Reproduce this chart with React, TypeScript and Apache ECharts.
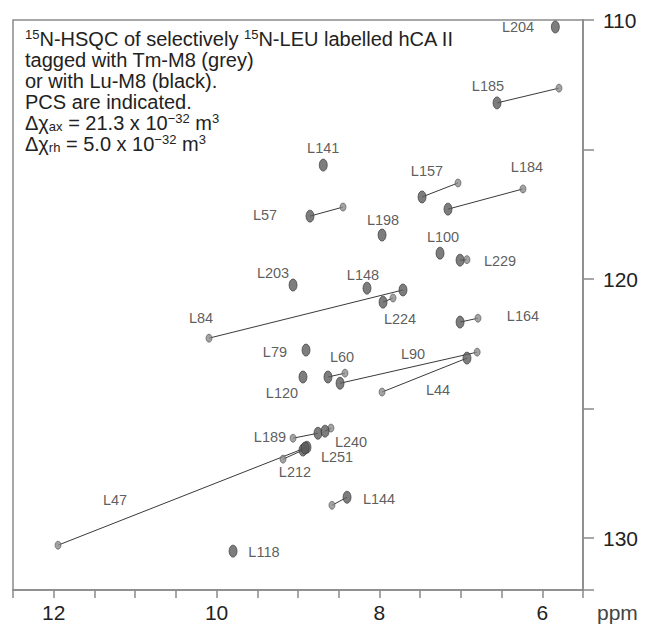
import React, { useEffect, useRef } from "react";
import * as echarts from "echarts";

// Residue names
const residues = [
  "L204", "L185", "L141", "L157", "L184", "L57", "L198", "L100", "L229", "L203",
  "L148", "L84", "L224", "L164", "L79", "L60", "L120", "L90", "L44", "L189",
  "L240", "L251", "L212", "L47", "L144", "L118",
];
// Lu-M8 (black, diamagnetic) peaks: 1H ppm / 15N ppm
const luH = [
  5.84, 6.556, 8.69, 7.477, 7.158, 8.853, 7.968, 7.256, 7.01, 9.061,
  8.153, 7.711, 7.956, 7.01, 8.902, 8.632, 8.939, 8.484, 6.925, 8.755,
  8.668, 8.89, 8.939, 8.914, 8.398, 9.798,
];
const luN = [
  110.27, 113.2, 115.6, 116.83, 117.3, 117.57, 118.3, 119.0, 119.27, 120.23,
  120.35, 120.42, 120.89, 121.66, 122.74, 123.78, 123.78, 124.02, 123.05, 125.95,
  125.87, 126.49, 126.6, 126.52, 128.42, 130.5,
];
// Tm-M8 (grey, paramagnetic) peaks; null where not separately resolved
const tmH: (number | null)[] = [
  null, 5.795, null, 7.035, 6.237, 8.447, null, null, 6.925, null,
  null, 10.093, 7.833, 6.79, null, 8.423, null, 6.8, 7.968, 9.061,
  8.595, null, 9.184, 11.947, 8.583, null,
];
const tmN: (number | null)[] = [
  null, 112.63, null, 116.29, 116.52, 117.22, null, null, 119.25, null,
  null, 122.28, 120.73, 121.51, null, 123.63, null, 122.82, 124.36, 126.14,
  125.75, null, 126.95, 130.27, 128.73, null,
];
// Annotation anchor points (ppm) for residue labels
const labelH = [
  6.298, 6.667, 8.69, 7.416, 6.188, 9.405, 7.956, 7.219, 6.519, 9.307,
  8.202, 10.191, 7.747, 6.237, 9.283, 8.46, 9.197, 7.588, 7.281, 9.344,
  8.349, 8.521, 9.037, 11.247, 8.005, 9.418,
];
const labelN = [
  110.27, 112.55, 114.94, 115.83, 115.68, 117.53, 117.72, 118.38, 119.31, 119.77,
  119.85, 121.51, 121.54, 121.43, 122.82, 123.01, 124.4, 122.9, 124.29, 126.1,
  126.29, 126.87, 127.45, 128.53, 128.49, 130.54,
];

const FONT = "'Liberation Sans', Arial, Helvetica, sans-serif";

export default function App() {
  const ref = useRef<HTMLDivElement>(null);
  useEffect(() => {
    if (!ref.current) return;
    const chart = echarts.init(ref.current, undefined, { renderer: "svg" });

    const pairLines: any[] = [];
    const tmPts: any[] = [];
    residues.forEach((r, i) => {
      if (tmH[i] != null && tmN[i] != null) {
        pairLines.push({ coords: [[luH[i], luN[i]], [tmH[i], tmN[i]]] });
        tmPts.push({ name: r, value: [tmH[i], tmN[i]] });
      }
    });
    const luPts = residues.map((r, i) => ({ name: r, value: [luH[i], luN[i]] }));
    const labelPts = residues.map((r, i) => ({ name: r, value: [labelH[i], labelN[i]] }));

    chart.setOption({
      animation: false,
      backgroundColor: "#ffffff",
      grid: {
        left: 13,
        right: 62,
        top: 20,
        bottom: 34,
        show: true,
        borderColor: "#8a8a8a",
        borderWidth: 1.5,
      },
      xAxis: {
        type: "value",
        min: 5.5,
        max: 12.5,
        interval: 0.5,
        inverse: true,
        position: "bottom",
        splitLine: { show: false },
        axisLine: { show: true, lineStyle: { color: "#8a8a8a", width: 1.5 } },
        axisTick: { show: true, length: 8, lineStyle: { color: "#8a8a8a", width: 1.5 } },
        axisLabel: {
          margin: 12,
          fontSize: 21,
          color: "#222",
          fontFamily: FONT,
          formatter: (v: number) => (Math.abs(v % 2) < 1e-9 ? String(v) : ""),
        },
      },
      yAxis: {
        type: "value",
        min: 110,
        max: 132,
        interval: 5,
        inverse: true,
        position: "right",
        splitLine: { show: false },
        axisLine: { show: true, lineStyle: { color: "#8a8a8a", width: 1.5 } },
        axisTick: { show: true, length: 11, lineStyle: { color: "#8a8a8a", width: 1.5 } },
        axisLabel: {
          margin: 20,
          fontSize: 21,
          color: "#222",
          fontFamily: FONT,
          formatter: (v: number) => (Math.abs(v % 10) < 1e-9 ? String(v) : ""),
        },
      },
      series: [
        {
          type: "lines",
          coordinateSystem: "cartesian2d",
          data: pairLines,
          silent: true,
          z: 1,
          lineStyle: { color: "#3a3a3a", width: 1, opacity: 1 },
        },
        {
          type: "scatter",
          name: "Tm-M8",
          data: tmPts,
          symbol: "circle",
          symbolSize: [6, 8],
          z: 2,
          itemStyle: { color: "#8c8c8c", borderColor: "#555", borderWidth: 0.8 },
        },
        {
          type: "scatter",
          name: "Lu-M8",
          data: luPts,
          symbol: "circle",
          symbolSize: [8, 12],
          z: 3,
          itemStyle: { color: "#5c5c5c", borderColor: "#333", borderWidth: 0.8 },
        },
        {
          type: "scatter",
          name: "labels",
          data: labelPts,
          symbolSize: 0,
          silent: true,
          z: 4,
          label: {
            show: true,
            position: "inside",
            formatter: "{b}",
            fontSize: 14.5,
            color: "#333",
            fontFamily: FONT,
          },
        },
      ],
      graphic: [
        {
          type: "text",
          left: 25,
          top: 28,
          style: {
            text:
              "{sup|15}N-HSQC of selectively {sup|15}N-LEU labelled hCA II\n" +
              "tagged with Tm-M8 (grey)\n" +
              "or with Lu-M8 (black).\n" +
              "PCS are indicated.\n" +
              "Δχ{sub|ax} = 21.3 x 10{sup|−32} m{sup|3}\n" +
              "Δχ{sub|rh} = 5.0 x 10{sup|−32} m{sup|3}",
            font: `20px ${FONT}`,
            fill: "#222",
            lineHeight: 21,
            rich: {
              sup: { fontSize: 13, fontFamily: FONT, fill: "#222", verticalAlign: "top", lineHeight: 21 },
              sub: { fontSize: 13, fontFamily: FONT, fill: "#222", verticalAlign: "bottom", lineHeight: 21 },
            },
          },
        },
        {
          type: "text",
          left: 597,
          top: 602,
          style: { text: "ppm", font: `21px ${FONT}`, fill: "#444" },
        },
      ],
    });
    return () => chart.dispose();
  }, []);
  return (
    <div
      ref={ref}
      style={{ position: "fixed", left: 0, top: 0, width: 645, height: 624 }}
    />
  );
}
